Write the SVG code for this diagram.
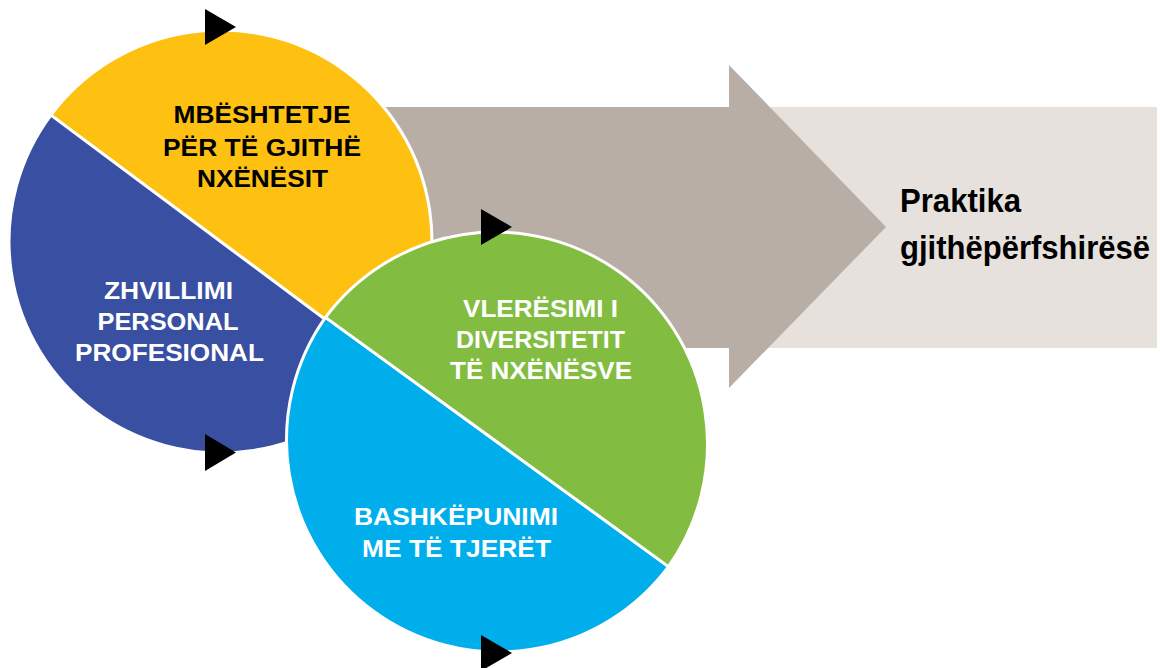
<svg xmlns="http://www.w3.org/2000/svg" width="1160" height="668" viewBox="0 0 1160 668">
<style>
.seg{stroke:#FFFFFF;stroke-width:3;stroke-linejoin:round}
.lbl{font-family:"Liberation Sans",Arial,sans-serif;font-weight:bold;font-size:24px;text-anchor:middle}
.w{fill:#FFFFFF}
.k{fill:#000000}
.out{font-family:"Liberation Sans",Arial,sans-serif;font-weight:bold;font-size:33px;fill:#000000}
.tri{fill:#000000}
</style>
<rect width="1160" height="668" fill="#FFFFFF"/>
<g id="arrow">
<rect x="729" y="107" width="428" height="241" fill="#E6E1DC"/>
<polygon points="385,107 729,107 729,65 886,227 729,388 729,348 385,348" fill="#B9AEA6"/>
<text class="out" x="900" y="212" textLength="121" lengthAdjust="spacingAndGlyphs">Praktika</text>
<text class="out" x="900" y="259" textLength="250" lengthAdjust="spacingAndGlyphs">gjithëpërfshirësë</text>
</g>
<g id="node-mbeshtetje">
<path class="seg" fill="#FEC111" d="M50.9,115.1 A211.5,211.5 0 0 1 390.1,367.9 Z"/>
<text class="lbl k" x="262" y="123" textLength="177" lengthAdjust="spacingAndGlyphs">MBËSHTETJE</text>
<text class="lbl k" x="262" y="156" textLength="198" lengthAdjust="spacingAndGlyphs">PËR TË GJITHË</text>
<text class="lbl k" x="262.5" y="187" textLength="131" lengthAdjust="spacingAndGlyphs">NXËNËSIT</text>
</g>
<g id="node-zhvillimi">
<path class="seg" fill="#3950A2" d="M390.1,367.9 A211.5,211.5 0 0 1 50.9,115.1 Z"/>
<text class="lbl w" x="168.5" y="299" textLength="129" lengthAdjust="spacingAndGlyphs">ZHVILLIMI</text>
<text class="lbl w" x="168" y="330" textLength="141" lengthAdjust="spacingAndGlyphs">PERSONAL</text>
<text class="lbl w" x="169.5" y="361" textLength="189" lengthAdjust="spacingAndGlyphs">PROFESIONAL</text>
</g>
<g id="node-bashkepunimi">
<path class="seg" fill="#00AEEC" d="M668.5,566.6 A212,212 0 0 1 325.5,317.4 Z"/>
<text class="lbl w" x="456" y="525" textLength="204" lengthAdjust="spacingAndGlyphs">BASHKËPUNIMI</text>
<text class="lbl w" x="456.5" y="557" textLength="189" lengthAdjust="spacingAndGlyphs">ME TË TJERËT</text>
</g>
<g id="node-vleresimi">
<path class="seg" fill="#82BD42" d="M325.5,317.4 A212,212 0 0 1 668.5,566.6 Z"/>
<text class="lbl w" x="540.5" y="317" textLength="155" lengthAdjust="spacingAndGlyphs">VLERËSIMI I</text>
<text class="lbl w" x="540.5" y="348" textLength="169" lengthAdjust="spacingAndGlyphs">DIVERSITETIT</text>
<text class="lbl w" x="541" y="379" textLength="182" lengthAdjust="spacingAndGlyphs">TË NXËNËSVE</text>
</g>
<g id="connectors">
<polygon class="tri" points="205,9 236,27 205,45"/>
<polygon class="tri" points="205,434 236,452.5 205,471"/>
<polygon class="tri" points="481,209 512,227 481,245"/>
<polygon class="tri" points="481,635 512,653 481,671"/>
</g>
</svg>
